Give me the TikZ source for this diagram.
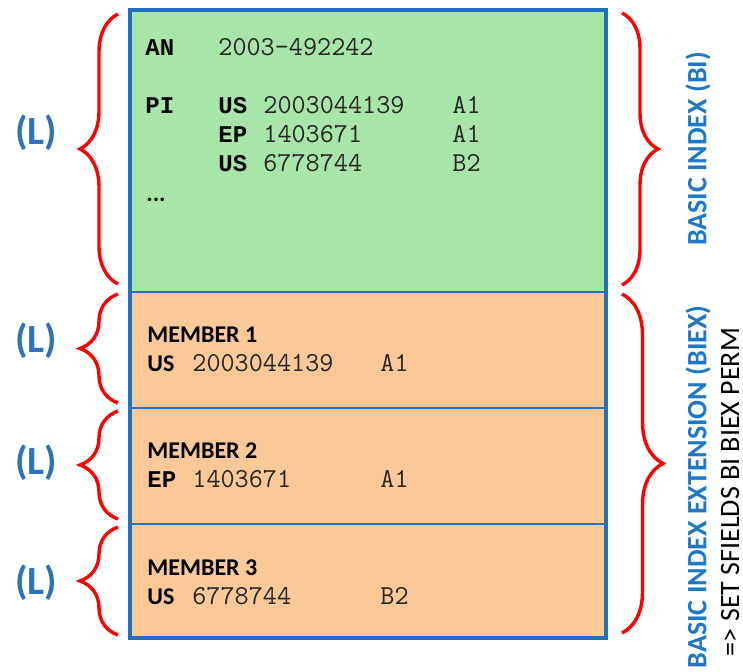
\documentclass[tikz,border=0pt]{standalone}
\usepackage{fontspec}
\setmainfont{Carlito}
\newfontfamily\fieldmono{Liberation Mono}
\usetikzlibrary{decorations.pathreplacing}
\definecolor{boxblue}{HTML}{1F6FC2}
\definecolor{levblue}{HTML}{2E72B8}
\definecolor{idxblue}{HTML}{1E78C8}
\definecolor{bigreen}{HTML}{A8E5A8}
\definecolor{biexorange}{HTML}{FBC998}

\begin{document}
\begin{tikzpicture}[x=0.5pt,y=-0.5pt,
    field/.style = {anchor=base west, inner sep=0pt,
      font=\fontsize{12}{14}\fieldmono\bfseries, text=black},
    ccsans/.style = {anchor=base west, inner sep=0pt,
      font=\fontsize{12}{14}\selectfont\bfseries, text=black},
    value/.style = {anchor=base west, inner sep=0pt,
      font=\fontsize{13.7}{16}\ttfamily, text=black!85},
    member/.style = {anchor=base west, inner sep=0pt,
      font=\fontsize{12}{14}\selectfont\bfseries, text=black},
    level/.style = {inner sep=0pt,
      font=\fontsize{20}{24}\selectfont\bfseries, text=levblue},
    index/.style = {inner sep=0pt, rotate=90,
      font=\fontsize{14}{17}\selectfont\bfseries, text=idxblue},
    bracel/.style = {decorate, decoration={brace, amplitude=19pt},
      draw=red, line width=1.7pt},
    bracer/.style = {decorate, decoration={brace, amplitude=#1},
      draw=red, line width=1.7pt}
    ]
    \useasboundingbox (0,0) rectangle (743,672);
    \fill[bigreen] (130,10) rectangle (606,292);
    \fill[biexorange] (130,292) rectangle (606,638);
    \foreach \i in {1,2,3}
        \draw[boxblue, line width=1pt] (130,{176+116*\i}) -- (606,{176+116*\i});
    \draw[boxblue, line width=1.75pt] (130,10) rectangle (606,638);

    \node[field] (an) at (145,56) {AN};
    \node[value] (anno) at (218,56) {2003-492242};
    \node[field] (pi) at (145,114) {PI};
    \foreach \cc/\no/\kd [count=\i] in {US/2003044139/A1, EP/1403671/A1, US/6778744/B2} {
        \node[field] (pi\i cc) at (218,{85+29*\i}) {\cc};
        \node[value] (pi\i no) at (263,{85+29*\i}) {\no};
        \node[value] (pi\i kd) at (452,{85+29*\i}) {\kd};
    }
    \node[ccsans] (more) at (146,202) {...};

    \foreach \cc/\ccstyle/\no/\kd [count=\i] in {US/ccsans/2003044139/A1, EP/field/1403671/A1, US/ccsans/6778744/B2} {
        \node[member] (mem\i) at (147,{227+116*\i}) {MEMBER \i};
        \node[\ccstyle] (mem\i cc) at (147,{256+116*\i}) {\cc};
        \node[value] (mem\i no) at (192,{256+116*\i}) {\no};
        \node[value] (mem\i kd) at (380,{256+116*\i}) {\kd};
    }

    \foreach \y [count=\i] in {133,341,463,583}
        \node[level] (lev\i) at (36,\y) {(L)};
    \foreach \a/\b in {284/14, 403/294, 519/411, 635/527}
        \draw[bracel] (118,\a) -- (118,\b);

    \draw[bracer=18pt] (622,13) -- (622,285);
    \draw[bracer=20.5pt] (622,294) -- (622,633);
    \node[index] (bi) at (698,149) {BASIC INDEX (BI)};
    \node[index] (biex) at (698,487) {BASIC INDEX EXTENSION (BIEX)};
    \node[index, font=\fontsize{14}{17}\selectfont, text=black] (perm) at (730,492) {=> SET SFIELDS BI BIEX PERM};
\end{tikzpicture}
\end{document}
